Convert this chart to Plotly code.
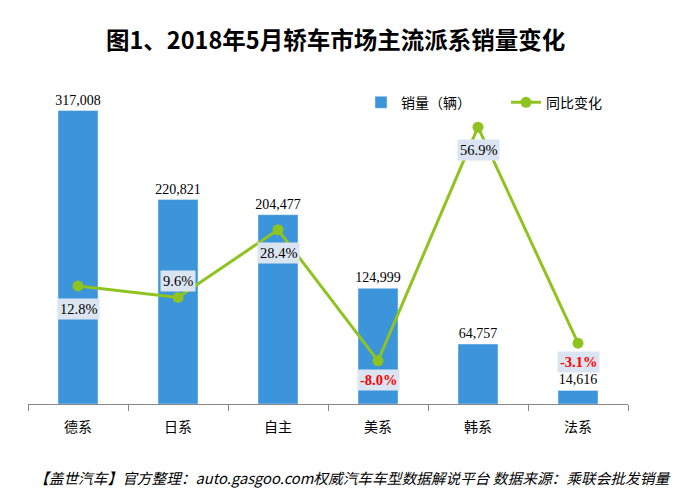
import plotly.graph_objects as go

categories = ["德系", "日系", "自主", "美系", "韩系", "法系"]
sales = [317008, 220821, 204477, 124999, 64757, 14616]
yoy = [12.8, 9.6, 28.4, -8.0, 56.9, -3.1]
yoy_label_above = [False, True, False, False, False, False]

BAR = "#3c94da"
LINE = "#8fc31f"
SERIF = "Liberation Serif, Times New Roman, serif"
CJK = "Noto Sans CJK SC, Microsoft YaHei, sans-serif"

fig = go.Figure()
fig.add_trace(go.Bar(
    x=categories, y=sales, name="销量（辆）", marker_color=BAR,
    texttemplate="%{y:,}", textposition="outside", cliponaxis=False,
    constraintext="none",
    textfont=dict(family=SERIF, size=14, color="#000"),
))
fig.add_trace(go.Scatter(
    x=categories, y=yoy, name="同比变化", yaxis="y2", mode="lines+markers",
    line=dict(color=LINE, width=3), marker=dict(color=LINE, size=11),
))

for c, v, above in zip(categories, yoy, yoy_label_above):
    neg = v < 0
    fig.add_annotation(
        x=c, y=v, xref="x", yref="y2", text=f"{v:.1f}%",
        showarrow=False, yshift=16 if above else (-19 if neg else -23),
        bgcolor="#dbe5f1", borderpad=2,
        font=dict(family=SERIF, size=14.5, color="#ff0000" if neg else "#000",
                  weight="bold" if neg else "normal"),
    )

fig.add_annotation(
    text="图1、2018年5月轿车市场主流派系销量变化", xref="paper", yref="paper",
    x=0.512, y=1.0, yshift=60, showarrow=False, xanchor="center",
    font=dict(family=CJK, size=23.5, color="#000", weight="bold"),
)
fig.add_annotation(
    text="<i>【盖世汽车】官方整理：auto.gasgoo.com权威汽车车型数据解说平台 数据来源：乘联会批发销量</i>",
    xref="paper", yref="paper", x=0, xshift=4, y=0, yshift=-73,
    showarrow=False, xanchor="left", yanchor="middle",
    font=dict(family=CJK, size=14.7, color="#000"),
)

fig.update_layout(
    width=692, height=498,
    margin=dict(l=28, r=64, t=80, b=94),
    paper_bgcolor="white", plot_bgcolor="white",
    bargap=0.6,
    showlegend=True,
    legend=dict(orientation="h", x=0.555, y=0.93, xanchor="left", yanchor="middle",
                font=dict(family=CJK, size=14, color="#000"),
                bgcolor="rgba(0,0,0,0)", itemwidth=30, entrywidth=100,
                entrywidthmode="pixels"),
    xaxis=dict(showline=True, linecolor="#888", linewidth=1, ticks="outside",
               tickson="boundaries", ticklen=6, tickcolor="#888",
               ticklabelstandoff=10,
               tickfont=dict(family=CJK, size=14, color="#000"), showgrid=False),
    yaxis=dict(range=[0, 350000], visible=False, showgrid=False),
    yaxis2=dict(range=[-20, 70], overlaying="y", side="right", visible=False, showgrid=False),
)

fig.write_html("out.html", config={"displayModeBar": False},
               post_script="document.body.style.margin='0';")
